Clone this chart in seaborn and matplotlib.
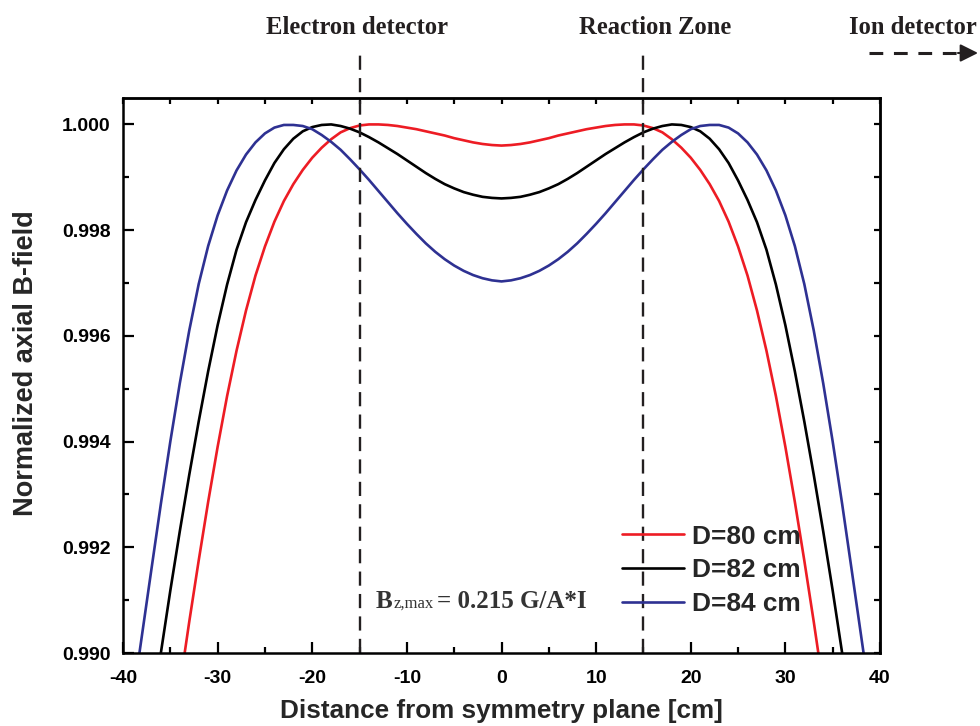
"""
Normalized axial B-field along the spectrometer axis for three coil spacings D.
Values read off the published figure (1 cm steps).
"""
import numpy as np
import pandas as pd
import matplotlib
matplotlib.use("Agg")
import matplotlib.pyplot as plt
from matplotlib.lines import Line2D
from matplotlib.ticker import MultipleLocator, FormatStrFormatter
import seaborn as sns

# ─────────────────────────────────────────
# Data
# ─────────────────────────────────────────
LABELS = ["D=80 cm", "D=82 cm", "D=84 cm"]

# D = 80 cm, z = -34 ... 34 cm
red_z = np.arange(-34, 35)
red_b = [0.98937, 0.99059, 0.99175, 0.99286, 0.99390, 0.99486, 0.99572, 0.99648, 0.99714, 0.99769,
         0.99816, 0.99855, 0.99887, 0.99914, 0.99937, 0.99956, 0.99972, 0.99985, 0.99993, 0.99998,
         1.00000, 1.00000, 0.99999, 0.99997, 0.99994, 0.99991, 0.99987, 0.99983, 0.99979, 0.99974,
         0.99970, 0.99966, 0.99963, 0.99961,
         0.99960,
         0.99961, 0.99963, 0.99966, 0.99970, 0.99974, 0.99979, 0.99983, 0.99987, 0.99991, 0.99994,
         0.99997, 0.99999, 1.00000, 1.00000, 0.99998, 0.99993, 0.99985, 0.99972, 0.99956, 0.99937,
         0.99914, 0.99887, 0.99855, 0.99816, 0.99769, 0.99714, 0.99648, 0.99572, 0.99486, 0.99390,
         0.99286, 0.99175, 0.99059, 0.98937]

# D = 82 cm, z = -37 ... 37 cm
black_z = np.arange(-37, 38)
black_b = [0.98880, 0.99000, 0.99118, 0.99230, 0.99337, 0.99438, 0.99533, 0.99620, 0.99697, 0.99763,
           0.99815, 0.99857, 0.99894, 0.99927, 0.99953, 0.99973, 0.99987, 0.99995, 0.99999, 1.00000,
           0.99997, 0.99992, 0.99985, 0.99976, 0.99966, 0.99955, 0.99944, 0.99932, 0.99920, 0.99908,
           0.99897, 0.99887, 0.99879, 0.99872, 0.99867, 0.99863, 0.99861,
           0.99860,
           0.99861, 0.99863, 0.99867, 0.99872, 0.99879, 0.99887, 0.99897, 0.99908, 0.99920, 0.99932,
           0.99944, 0.99955, 0.99966, 0.99976, 0.99985, 0.99992, 0.99997, 1.00000, 0.99999, 0.99995,
           0.99987, 0.99973, 0.99953, 0.99927, 0.99894, 0.99857, 0.99815, 0.99763, 0.99697, 0.99620,
           0.99533, 0.99438, 0.99337, 0.99230, 0.99118, 0.99000, 0.98880]

# D = 84 cm, z = -39 ... 39 cm
blue_z = np.arange(-39, 40)
blue_b = [0.98908, 0.99033, 0.99158, 0.99282, 0.99400, 0.99510, 0.99610, 0.99698, 0.99770, 0.99828,
          0.99875, 0.99913, 0.99943, 0.99966, 0.99983, 0.99994, 0.99999, 0.99999, 0.99997, 0.99991,
          0.99980, 0.99967, 0.99952, 0.99934, 0.99915, 0.99895, 0.99874, 0.99853, 0.99832, 0.99812,
          0.99793, 0.99775, 0.99759, 0.99745, 0.99733, 0.99723, 0.99715, 0.99709, 0.99705,
          0.99703,
          0.99705, 0.99709, 0.99715, 0.99723, 0.99733, 0.99745, 0.99759, 0.99775, 0.99793, 0.99812,
          0.99832, 0.99853, 0.99874, 0.99895, 0.99915, 0.99934, 0.99952, 0.99967, 0.99980, 0.99991,
          0.99997, 0.99999, 0.99999, 0.99994, 0.99983, 0.99966, 0.99943, 0.99913, 0.99875, 0.99828,
          0.99770, 0.99698, 0.99610, 0.99510, 0.99400, 0.99282, 0.99158, 0.99033, 0.98908]

X_TICKS = [-40, -30, -20, -10, 0, 10, 20, 30, 40]
Y_TICKS = [0.990, 0.992, 0.994, 0.996, 0.998, 1.000]
MARKER_LINES = [-15, 15]   # electron detector / reaction zone

df = pd.concat([
    pd.DataFrame({"z": red_z, "B": red_b, "coil": LABELS[0]}),
    pd.DataFrame({"z": black_z, "B": black_b, "coil": LABELS[1]}),
    pd.DataFrame({"z": blue_z, "B": blue_b, "coil": LABELS[2]}),
], ignore_index=True)

# ─────────────────────────────────────────
# Style
# ─────────────────────────────────────────
sns.set_theme(style="ticks")
plt.rcParams["font.family"] = ["Liberation Sans", "DejaVu Sans"]
plt.rcParams["font.weight"] = "bold"
plt.rcParams["axes.labelweight"] = "bold"
plt.rcParams["axes.unicode_minus"] = False

RED, BLACK, BLUE = "#ED1C24", "#000000", "#2E3192"
SERIF = ["Liberation Serif", "DejaVu Serif"]
TXT = "#231F20"
W, H = 980, 726

fig = plt.figure(figsize=(W / 100, H / 100), dpi=100)
ax = fig.add_axes([123 / W, 1 - 653 / H, 757 / W, 555 / H])

sns.lineplot(data=df, x="z", y="B", hue="coil", palette=dict(zip(LABELS, [RED, BLACK, BLUE])),
             linewidth=1.9, errorbar=None, ax=ax)
for ln in ax.lines:
    ln.set_solid_joinstyle("round")

ax.set_xlim(-40, 40)
ax.set_ylim(0.990, 1.0005)
ax.set_xticks(X_TICKS)
ax.set_yticks(Y_TICKS)
ax.xaxis.set_minor_locator(MultipleLocator(5))
ax.yaxis.set_minor_locator(MultipleLocator(0.001))
ax.yaxis.set_major_formatter(FormatStrFormatter("%.3f"))

ax.tick_params(which="major", direction="in", length=8, width=1.6, labelsize=14,
               top=False, right=False, color="black", labelcolor="black")
ax.tick_params(which="minor", direction="in", length=4.5, width=1.6,
               top=False, right=False, color="black")
ax.tick_params(axis="x", which="major", pad=12)
ax.tick_params(axis="y", which="major", pad=9)
for spine in ax.spines.values():
    spine.set_linewidth(1.8)
    spine.set_color("black")

# short ticks on top and right
secx = ax.secondary_xaxis("top")
secx.xaxis.set_major_locator(MultipleLocator(5))
secx.tick_params(direction="in", length=4.5, width=1.6, labeltop=False, color="black")
secx.spines["top"].set_linewidth(1.8)
secy = ax.secondary_yaxis("right")
secy.yaxis.set_major_locator(MultipleLocator(0.001))
secy.tick_params(direction="in", length=4.5, width=1.6, labelright=False, color="black")
secy.spines["right"].set_linewidth(1.8)

ax.set_xlabel("Distance from symmetry plane [cm]", fontsize=18.8, fontweight="bold", labelpad=9)
ax.set_ylabel("Normalized axial B-field", fontsize=19.5, fontweight="bold")
ax.yaxis.set_label_coords(-0.111, 0.523)

# dashed position markers reaching above the frame
for xv in MARKER_LINES:
    ax.axvline(xv, ymin=0, ymax=1.087, clip_on=False, color=TXT,
               linewidth=1.7, dashes=(6, 3.5))

# legend
handles, labels = ax.get_legend_handles_labels()
ax.legend(handles, labels, loc="lower left", bbox_to_anchor=(622 / W, 1 - 616 / H),
          bbox_transform=fig.transFigure, frameon=False,
          handlelength=2.35, handletextpad=0.33, labelspacing=0.37,
          borderpad=0, borderaxespad=0, prop={"weight": "bold", "size": 18.9})

# field annotation
fig.text(376 / W, 1 - 608 / H, "B", family=SERIF, fontsize=18, fontweight="bold",
         color="#333333", va="baseline")
fig.text(394 / W, 1 - 608 / H, "z,max", family=SERIF, fontsize=12, fontweight="normal",
         color="#333333", va="baseline")
fig.text(437 / W, 1 - 608 / H, "= 0.215 G/A*I", family=SERIF, fontsize=18, fontweight="bold",
         color="#333333", va="baseline")

# headings above the frame
fig.text(357 / W, 1 - 34 / H, "Electron detector", family=SERIF, fontsize=17.7,
         fontweight="bold", color=TXT, ha="center", va="baseline")
fig.text(655 / W, 1 - 34 / H, "Reaction Zone", family=SERIF, fontsize=17.7,
         fontweight="bold", color=TXT, ha="center", va="baseline")
fig.text(849 / W, 1 - 34 / H, "Ion detector", family=SERIF, fontsize=17.7,
         fontweight="bold", color=TXT, ha="left", va="baseline")

# dashed arrow towards the ion detector
fig.add_artist(Line2D([869 / W, 960 / W], [1 - 53 / H, 1 - 53 / H], transform=fig.transFigure,
                      color=TXT, linewidth=2.2, dashes=(4.5, 3.5)))
ax.annotate("", xy=(978, H - 53), xytext=(958, H - 53), xycoords="figure pixels",
            textcoords="figure pixels",
            arrowprops=dict(arrowstyle="-|>,head_length=0.9,head_width=0.45",
                            color=TXT, linewidth=1.5, shrinkA=0, shrinkB=0))

fig.savefig("out.png", dpi=100, facecolor="white")
